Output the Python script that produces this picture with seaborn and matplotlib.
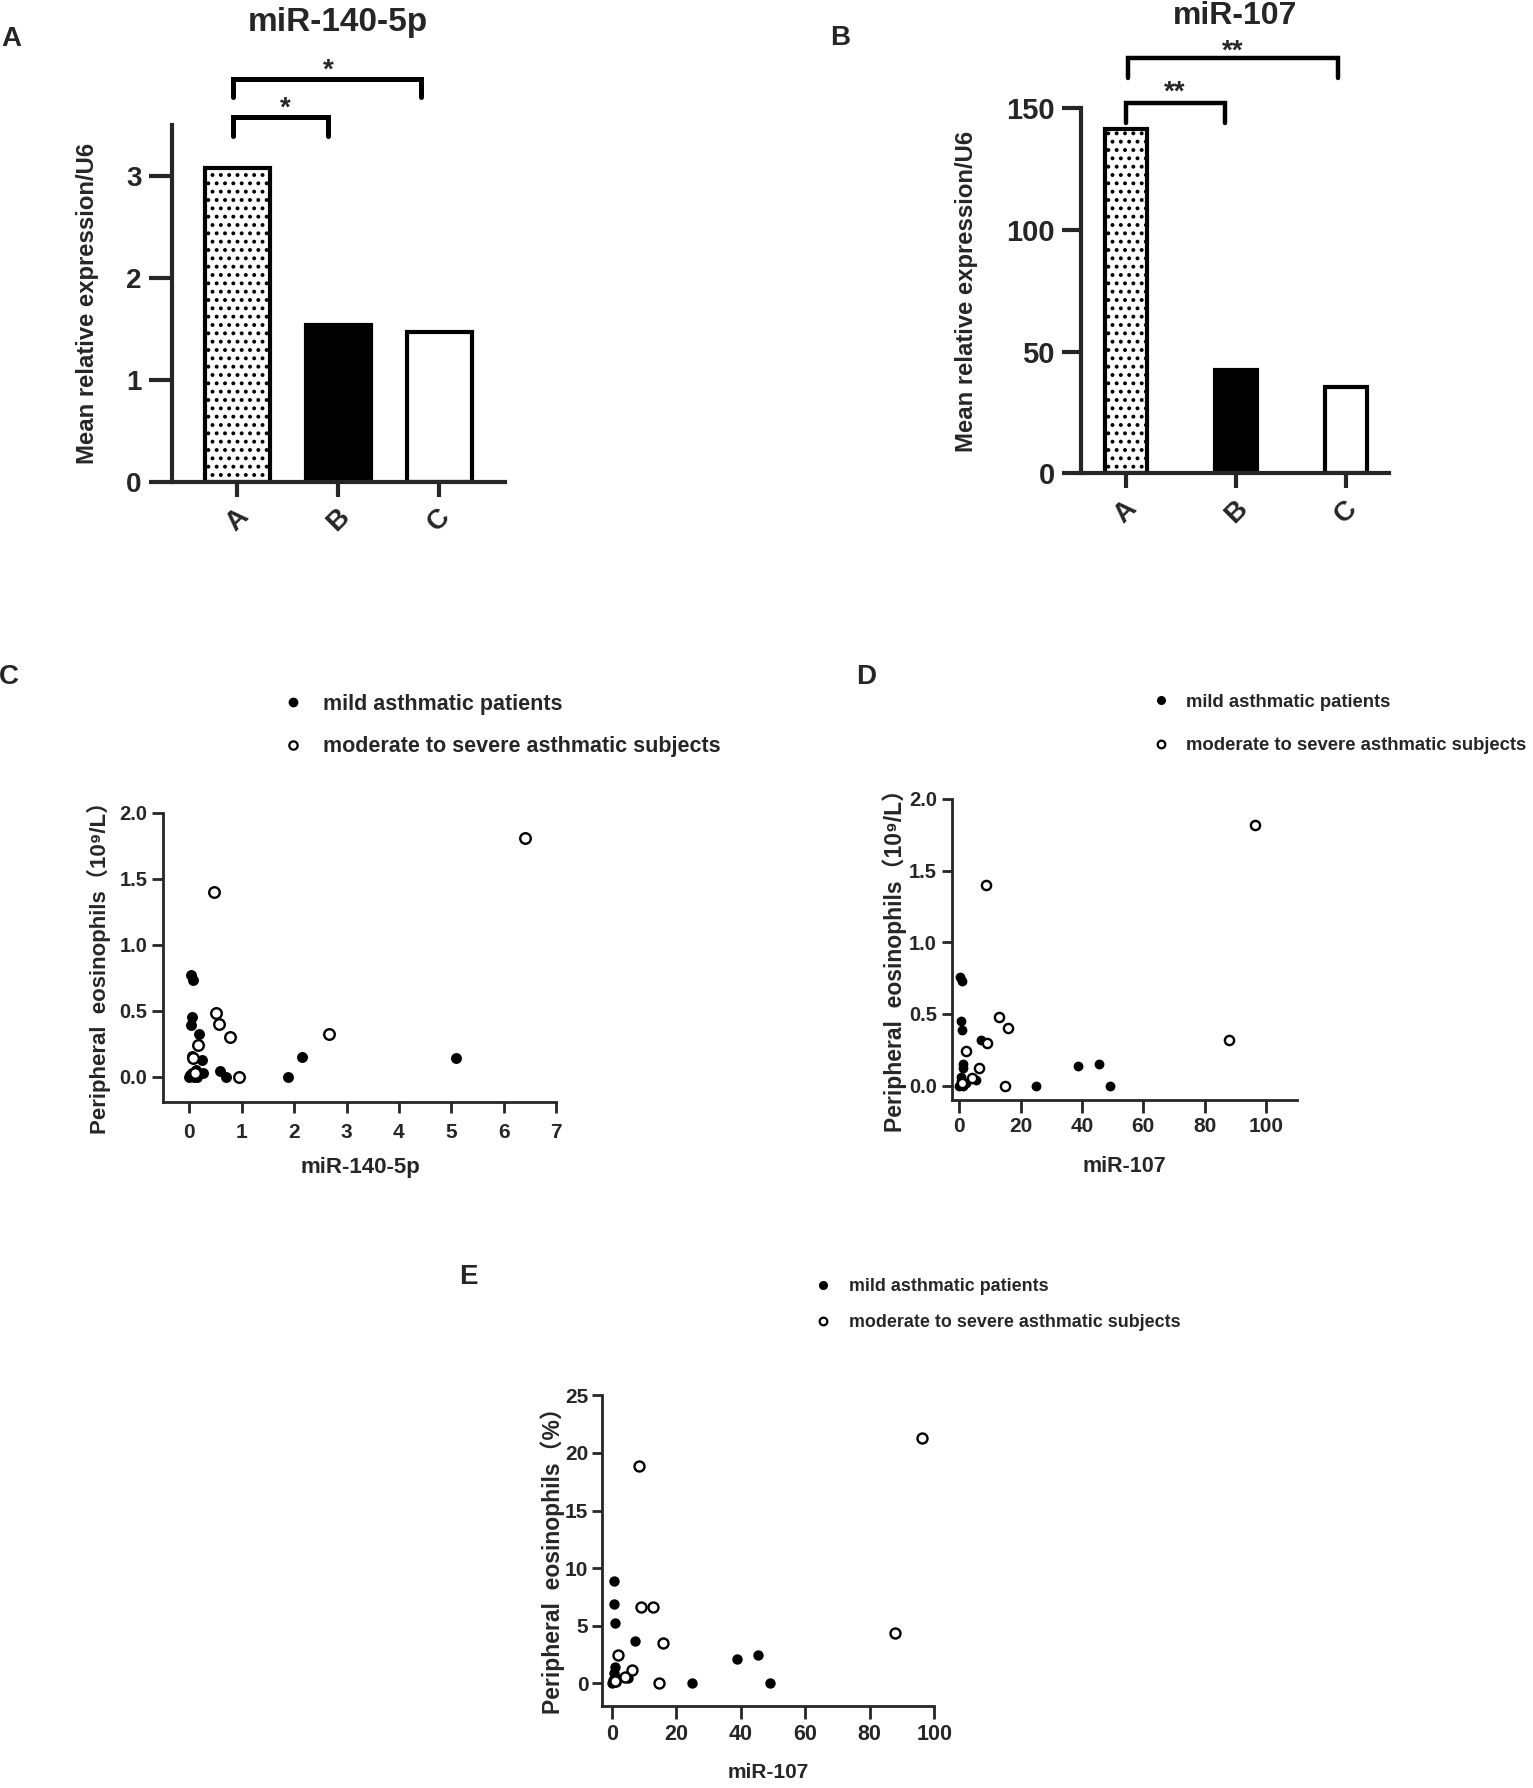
import matplotlib
matplotlib.use('Agg')
import pandas as pd
import matplotlib.pyplot as plt
import matplotlib.lines as mlines
import seaborn as sns
from matplotlib import font_manager

W, H = 1533, 1788

# bar panels (A, B)
groups = ['A', 'B', 'C']
mir140_means = [3.08, 1.54, 1.47]
mir107_means = [141.7, 42.4, 35.4]

# panel C: miR-140-5p vs eosinophils (10^9/L)
c_mild_x = [0.03, 0.06, 0.04, 0.03, 0.19, 0.24, 0.25, 0.59, 0.70, 1.88, 2.15, 5.10,
            0.00, 0.05, 0.08, 0.12, 0.02, 0.15, 0.05]
c_mild_y = [0.77, 0.73, 0.45, 0.39, 0.32, 0.13, 0.03, 0.04, 0.00, 0.00, 0.15, 0.14,
            0.00, 0.03, 0.00, 0.05, 0.01, 0.00, 0.16]
c_mod_x = [0.47, 6.40, 0.50, 0.57, 0.78, 0.16, 0.06, 0.94, 2.67, 0.10]
c_mod_y = [1.40, 1.81, 0.48, 0.40, 0.30, 0.24, 0.14, 0.00, 0.32, 0.03]

# panel D: miR-107 vs eosinophils (10^9/L)
d_mild_x = [0.2, 0.9, 0.5, 0.9, 7.1, 1.1, 1.3, 5.4, 24.9, 38.6, 45.4, 49.0,
            0.0, 0.4, 1.3, 2.0, 0.6]
d_mild_y = [0.76, 0.73, 0.45, 0.39, 0.32, 0.15, 0.12, 0.04, 0.00, 0.14, 0.15, 0.00,
            0.00, 0.03, 0.00, 0.02, 0.06]
d_mod_x = [8.6, 96.5, 13.0, 15.8, 9.1, 2.0, 6.4, 4.2, 15.0, 88.0, 1.0]
d_mod_y = [1.40, 1.82, 0.48, 0.40, 0.30, 0.24, 0.12, 0.05, 0.00, 0.32, 0.02]

# panel E: miR-107 vs eosinophils (%)
e_mild_x = [0.7, 0.7, 1.0, 7.2, 38.7, 45.5, 49.0, 24.9, 5.2, 0.0, 0.7, 1.0, 1.5, 0.5, 1.2]
e_mild_y = [8.9, 6.85, 5.26, 3.7, 2.08, 2.46, 0.0, 0.0, 0.43, 0.0, 0.87, 1.45, 0.43, 0.3, 0.1]
e_mod_x = [8.5, 96.1, 9.0, 12.9, 15.8, 2.1, 6.2, 4.1, 14.8, 87.9, 1.0]
e_mod_y = [18.85, 21.3, 6.65, 6.65, 3.47, 2.5, 1.16, 0.58, 0.0, 4.34, 0.2]

legend_labels = ['mild asthmatic patients', 'moderate to severe asthmatic subjects']

sns.set_style("ticks")
plt.rcParams['font.family'] = ['Liberation Sans', 'Noto Sans CJK SC', 'DejaVu Sans']
plt.rcParams['font.weight'] = 'bold'
plt.rcParams['axes.labelweight'] = 'bold'
plt.rcParams['hatch.linewidth'] = 1.6
plt.rcParams['hatch.color'] = 'black'

available = {f.name for f in font_manager.fontManager.ttflist}
if 'Liberation Sans Narrow' in available:
    NARROW = ['Liberation Sans Narrow', 'Noto Sans CJK SC', 'DejaVu Sans']
    nscale = 1.0
else:
    NARROW = ['Liberation Sans', 'Noto Sans CJK SC', 'DejaVu Sans']
    nscale = 0.82
REG = ['Liberation Sans', 'Noto Sans CJK SC', 'DejaVu Sans']

fig = plt.figure(figsize=(W / 100, H / 100), dpi=100)


def axes_px(L, T, R, B):
    ax = fig.add_axes([L / W, 1 - B / H, (R - L) / W, (B - T) / H])
    ax.box = (L, T, R, B)
    return ax


def label_at(ax, which, px, py, text, family, size):
    L, T, R, B = ax.box
    fx, fy = (px - L) / (R - L), (B - py) / (B - T)
    if which == 'y':
        ax.set_ylabel(text, family=family, fontsize=size, fontweight='bold')
        ax.yaxis.set_label_coords(fx, fy)
        ax.yaxis.label.set_va('center')
    else:
        ax.set_xlabel(text, family=family, fontsize=size, fontweight='bold')
        ax.xaxis.set_label_coords(fx, fy)
        ax.xaxis.label.set_va('center')


def fig_text(px, py, s, size, family=REG, **kw):
    fig.text(px / W, 1 - py / H, s, fontsize=size, family=family, fontweight='bold',
             ha='center', va='center', **kw)


def bracket(ax, x0, x1, ybot, ytop, lw):
    ax.plot([x0, x0, x1, x1], [ybot, ytop, ytop, ybot], color='black', lw=lw,
            clip_on=False, solid_capstyle='round', solid_joinstyle='miter')


def legend_at(ax, mx, tx, y1, y2, size, family, ms):
    fs = size * 100 / 72
    hl = 1.0
    left = mx - 0.5 * fs * hl
    pad = (tx - (left + hl * fs)) / fs
    row_h = fs * 0.91
    spacing = (y2 - y1 - row_h) / fs
    top = y1 - 0.42 * fs
    handles = [
        mlines.Line2D([], [], marker='o', ls='none', color='black', markersize=ms),
        mlines.Line2D([], [], marker='o', ls='none', markerfacecolor='white',
                      markeredgecolor='black', markeredgewidth=1.6, markersize=ms),
    ]
    ax.legend(handles=handles, labels=legend_labels, loc='upper left',
              bbox_to_anchor=(left / W, 1 - top / H), bbox_transform=fig.transFigure,
              frameon=False, borderpad=0, borderaxespad=0, handlelength=hl,
              handletextpad=pad, labelspacing=spacing,
              prop={'family': family, 'size': size, 'weight': 'bold'})


def bar_panel(ax, values, width, ylim, yticks, xlim, ylen, lw, tsize):
    sns.barplot(x=groups, y=values, hue=groups, palette=['white', 'black', 'white'],
                legend=False, width=width, saturation=1, edgecolor='black',
                linewidth=lw, errorbar=None, ax=ax)
    ax.patches[0].set_hatch('..')
    sns.despine(ax=ax)
    for s in ['left', 'bottom']:
        ax.spines[s].set_linewidth(3)
    ax.set_xlim(*xlim)
    ax.set_ylim(*ylim)
    ax.set_yticks(yticks, [str(t) for t in yticks], fontsize=tsize, family=REG,
                  fontweight='bold')
    ax.set_xticks([0, 1, 2], groups, fontsize=20, family=REG, fontweight='bold',
                  rotation=45, ha='center')
    ax.tick_params(axis='y', length=ylen, width=3, pad=5)
    ax.tick_params(axis='x', length=11, width=3, pad=5)
    ax.set_xlabel('')


def scatter_panel(ax, mx, my, ox, oy, s_fill, s_open, lw_spine):
    df_mild = pd.DataFrame({'x': mx, 'y': my})
    df_mod = pd.DataFrame({'x': ox, 'y': oy})
    sns.scatterplot(data=df_mild, x='x', y='y', color='black', s=s_fill, linewidth=0,
                    ax=ax, legend=False, clip_on=False, zorder=3)
    sns.scatterplot(data=df_mod, x='x', y='y', color='white', edgecolor='black',
                    linewidth=1.7, s=s_open, ax=ax, legend=False, clip_on=False, zorder=4)
    sns.despine(ax=ax)
    for s in ['left', 'bottom']:
        ax.spines[s].set_linewidth(lw_spine)


# ---------------- A ----------------
axA = axes_px(171.7, 125, 505, 481.7)
bar_panel(axA, mir140_means, 0.64, (0, 3.5), [0, 1, 2, 3], (-0.65, 2.65), 16.5, 3, 20)
bracket(axA, -0.04, 0.90, 3.39, 3.576, 3.6)
bracket(axA, -0.04, 1.82, 3.77, 3.95, 3.6)
axA.text(0.475, 3.66, '*', ha='center', va='center', fontsize=20, fontweight='bold',
         clip_on=False)
axA.text(0.90, 4.03, '*', ha='center', va='center', fontsize=20, fontweight='bold',
         clip_on=False)
label_at(axA, 'y', 87.8, 303, 'Mean relative expression/U6', NARROW, 20 * nscale + 0.8)
fig_text(338, 22, 'miR-140-5p', 24)
fig_text(11, 39, 'A', 20)

# ---------------- B ----------------
axB = axes_px(1081.3, 108.4, 1389, 473.3)
bar_panel(axB, mir107_means, 0.38, (0, 150), [0, 50, 100, 150], (-0.405, 2.39), 14, 3, 21)
bracket(axB, 0.0, 0.90, 143.8, 152.1, 3.2)
bracket(axB, 0.02, 1.925, 162.4, 170.6, 3.2)
axB.text(0.44, 156.5, '**', ha='center', va='center', fontsize=20, fontweight='bold',
         clip_on=False)
axB.text(0.97, 173.5, '**', ha='center', va='center', fontsize=20, fontweight='bold',
         clip_on=False)
label_at(axB, 'y', 966, 291, 'Mean relative expression/U6', NARROW, 20 * nscale + 0.8)
fig_text(1235, 16, 'miR-107', 23)
fig_text(840, 38, 'B', 20)

# ---------------- C ----------------
axC = axes_px(162.7, 812.7, 556, 1102.3)
scatter_panel(axC, c_mild_x, c_mild_y, c_mod_x, c_mod_y, 62, 58, 2.0)
axC.set_xlim(-0.51, 7)
axC.set_ylim(-0.194, 2.0)
yt = [0.0, 0.5, 1.0, 1.5, 2.0]
axC.set_yticks(yt, [f'{t:.1f}' for t in yt], fontsize=14.5, family=REG, fontweight='bold')
axC.set_xticks(range(8), [str(i) for i in range(8)], fontsize=15, family=REG,
               fontweight='bold')
axC.tick_params(axis='y', length=8, width=2, pad=3)
axC.tick_params(axis='x', length=8, width=2, pad=7)
label_at(axC, 'y', 99, 962, 'Peripheral  eosinophils（10\u2079/L）', REG, 16)
label_at(axC, 'x', 360, 1168, 'miR-140-5p', REG, 16)
legend_at(axC, 293, 322.8, 702.6, 743.7, 15.5, REG, 6)
fig_text(9, 677.5, 'C', 20)

# ---------------- D ----------------
axD = axes_px(951.7, 799, 1296.7, 1100)
scatter_panel(axD, d_mild_x, d_mild_y, d_mod_x, d_mod_y, 50, 44, 2.0)
axD.set_xlim(-2.5, 110)
axD.set_ylim(-0.10, 2.0)
axD.set_yticks(yt, [f'{t:.1f}' for t in yt], fontsize=14.5, family=NARROW,
               fontweight='bold')
xt = [0, 20, 40, 60, 80, 100]
axD.set_xticks(xt, [str(t) for t in xt], fontsize=15, family=NARROW,
               fontweight='bold')
axD.tick_params(axis='y', length=7.5, width=2, pad=3)
axD.tick_params(axis='x', length=9, width=2, pad=3.6)
label_at(axD, 'y', 895, 955, 'Peripheral  eosinophils（10\u2079/L）', REG, 16.5)
label_at(axD, 'x', 1124, 1167, 'miR-107', NARROW, 15.5)
legend_at(axD, 1161, 1186, 701.5, 744.8, 13.3, NARROW, 5.5)
fig_text(866, 677.5, 'D', 20)

# ---------------- E ----------------
axE = axes_px(602.3, 1395.3, 934.3, 1705.7)
scatter_panel(axE, e_mild_x, e_mild_y, e_mod_x, e_mod_y, 56, 52, 2.0)
axE.set_xlim(-2.9, 100)
axE.set_ylim(-1.94, 25)
ye = [0, 5, 10, 15, 20, 25]
axE.set_yticks(ye, [str(t) for t in ye], fontsize=15, family=NARROW,
               fontweight='bold')
axE.set_xticks(xt, [str(t) for t in xt], fontsize=15.5, family=NARROW,
               fontweight='bold')
axE.tick_params(axis='y', length=7.5, width=2, pad=2.5)
axE.tick_params(axis='x', length=9, width=2, pad=4)
label_at(axE, 'y', 553, 1555, 'Peripheral  eosinophils（%）', REG, 16.5)
label_at(axE, 'x', 768, 1773, 'miR-107', NARROW, 15)
legend_at(axE, 823.5, 848.6, 1285.5, 1320.8, 12.9, NARROW, 5.5)
fig_text(468.5, 1277.5, 'E', 20)

fig.savefig('out.png', dpi=100)
